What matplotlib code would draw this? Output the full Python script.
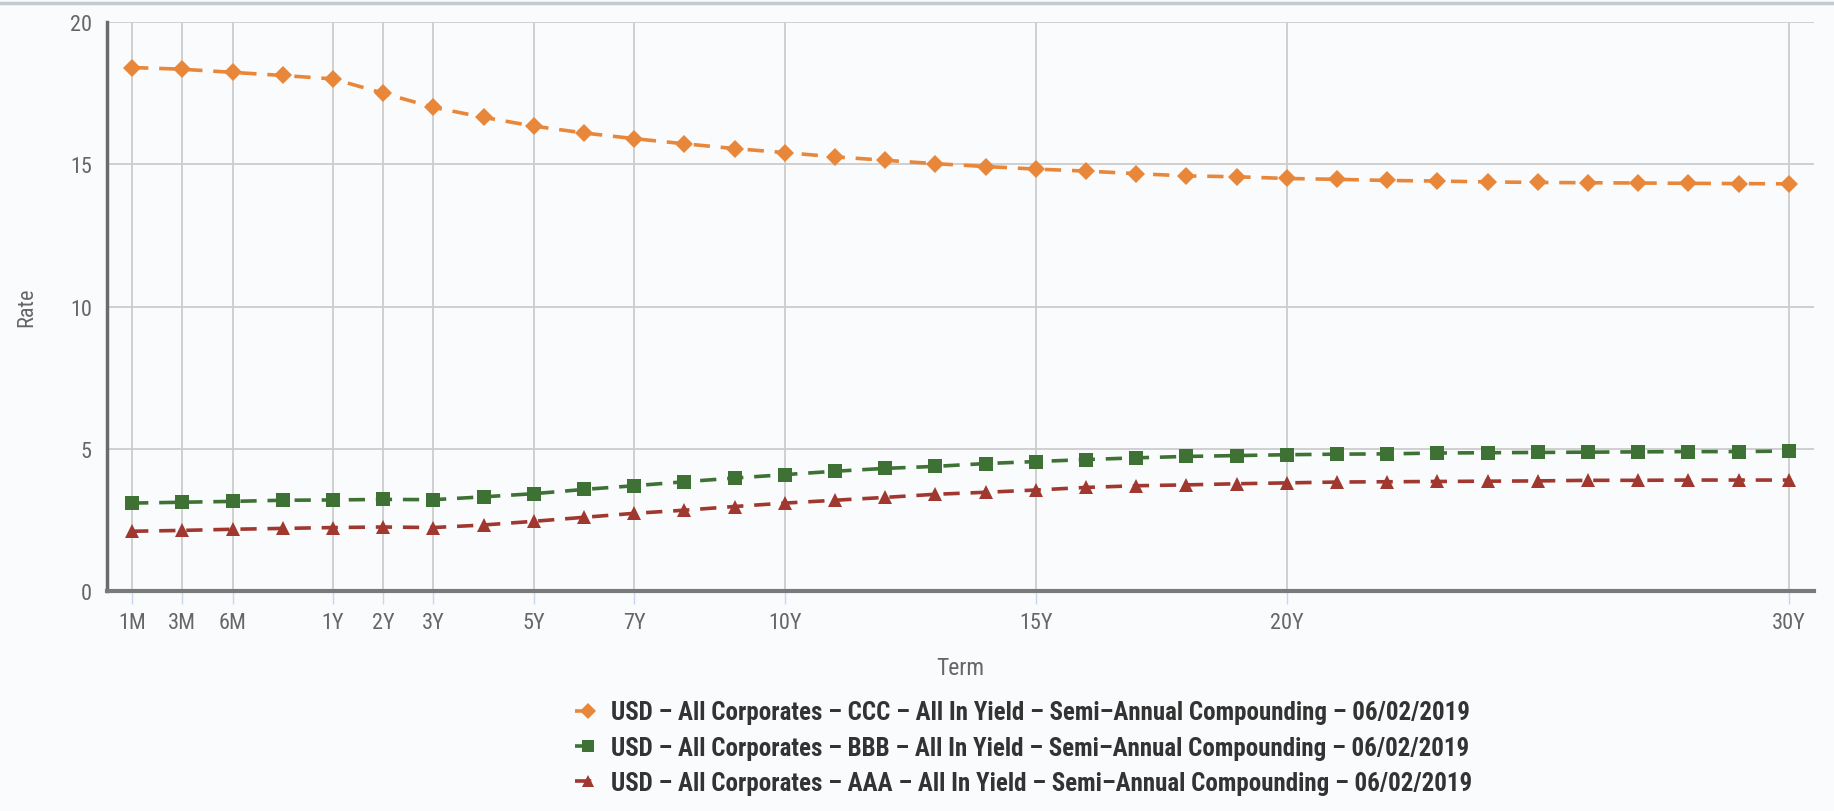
import matplotlib
matplotlib.use("Agg")
import matplotlib.pyplot as plt
from matplotlib import font_manager
from matplotlib.lines import Line2D
import numpy as np

# term labels (all points), only some are shown on the axis
terms = ["1M", "3M", "6M", "9M", "1Y", "2Y", "3Y", "4Y", "5Y", "6Y", "7Y", "8Y", "9Y", "10Y",
         "11Y", "12Y", "13Y", "14Y", "15Y", "16Y", "17Y", "18Y", "19Y", "20Y",
         "21Y", "22Y", "23Y", "24Y", "25Y", "26Y", "27Y", "28Y", "29Y", "30Y"]
shown_ticks = ["1M", "3M", "6M", "1Y", "2Y", "3Y", "5Y", "7Y", "10Y", "15Y", "20Y", "30Y"]

ccc = [18.40, 18.34, 18.23, 18.12, 18.00, 17.50, 17.00, 16.65, 16.34, 16.10, 15.90, 15.72,
       15.55, 15.41, 15.26, 15.14, 15.02, 14.92, 14.83, 14.76, 14.67, 14.59, 14.56, 14.50,
       14.47, 14.43, 14.41, 14.38, 14.36, 14.35, 14.34, 14.33, 14.32, 14.31]
bbb = [3.09, 3.12, 3.15, 3.19, 3.20, 3.22, 3.21, 3.31, 3.42, 3.57, 3.70, 3.84,
       3.97, 4.09, 4.21, 4.31, 4.38, 4.48, 4.55, 4.62, 4.68, 4.73, 4.76, 4.79,
       4.81, 4.82, 4.85, 4.86, 4.87, 4.88, 4.89, 4.90, 4.90, 4.92]
aaa = [2.10, 2.13, 2.17, 2.20, 2.23, 2.25, 2.23, 2.32, 2.45, 2.59, 2.73, 2.84,
       2.97, 3.09, 3.19, 3.29, 3.40, 3.47, 3.55, 3.64, 3.70, 3.73, 3.77, 3.80,
       3.83, 3.84, 3.85, 3.86, 3.87, 3.89, 3.89, 3.90, 3.90, 3.90]

names = ["USD \u2013 All Corporates \u2013 CCC \u2013 All In Yield \u2013 Semi\u2013Annual Compounding \u2013 06/02/2019",
         "USD \u2013 All Corporates \u2013 BBB \u2013 All In Yield \u2013 Semi\u2013Annual Compounding \u2013 06/02/2019",
         "USD \u2013 All Corporates \u2013 AAA \u2013 All In Yield \u2013 Semi\u2013Annual Compounding \u2013 06/02/2019"]

# use a narrow-ish font if there is one
avail = set(f.name for f in font_manager.fontManager.ttflist)
fam = "Roboto"
for cand in ["Roboto Condensed", "Open Sans Condensed", "Liberation Sans Narrow"]:
    if cand in avail:
        fam = cand
        break
plt.rcParams['font.family'] = [fam, 'DejaVu Sans']

bg = "#f9fbfd"
fig = plt.figure(figsize=(18.34, 8.12), dpi=100, facecolor=bg)
ax = fig.add_axes([107 / 1834, 1 - 592 / 812, (1814 - 107) / 1834, (592 - 23) / 812])
ax.set_facecolor(bg)

x = np.arange(len(terms))
styles = [(ccc, "#e8873a", "D", 9.5), (bbb, "#3e7134", "s", 9.5), (aaa, "#a0382f", "^", 10.5)]
for (vals, col, mk, ms), name in zip(styles, names):
    ax.plot(x, vals, color=col, lw=2.6, ls=(0, (4.5, 3.0)), marker=mk, markersize=ms,
            markeredgewidth=0, label=name, zorder=3)

ax.set_xlim(-0.5, len(terms) - 0.5)
ax.set_ylim(0, 20)
ax.set_yticks([0, 5, 10, 15, 20])
tick_pos = [terms.index(t) for t in shown_ticks]
ax.set_xticks(tick_pos)
ax.set_xticklabels(shown_ticks)

ax.grid(True, color="#cccccc", lw=1.3, zorder=0)
for s in ["top", "right"]:
    ax.spines[s].set_visible(False)
ax.spines["left"].set_color("#6b6b6b")
ax.spines["left"].set_linewidth(2.5)
ax.spines["bottom"].set_color("#7a7a7a")
ax.spines["bottom"].set_linewidth(3)

ax.tick_params(axis="x", length=9, width=1, color="#ccd6eb", pad=6, labelsize=16, labelcolor="#666666")
ax.tick_params(axis="y", length=0, pad=11, labelsize=16, labelcolor="#666666")

ax.set_xlabel("Term", fontsize=17, color="#666666", labelpad=17)
ax.set_ylabel("Rate", fontsize=16, color="#666666")
ax.yaxis.set_label_coords(-0.041, 0.5)

leg = fig.legend(loc="upper left", bbox_to_anchor=(0.301, 0.164), ncol=1, frameon=False,
                 prop={"size": 18, "weight": "bold"}, handlelength=1.1, handletextpad=0.35,
                 labelspacing=0.45, markerscale=0.85)
for t in leg.get_texts():
    t.set_color("#333333")

# thin grey band at the very top
fig.add_artist(Line2D([0, 1], [1 - 4 / 812, 1 - 4 / 812], color="#c3cad2", lw=2.5))

plt.savefig("out.png", dpi=100, facecolor=bg)
